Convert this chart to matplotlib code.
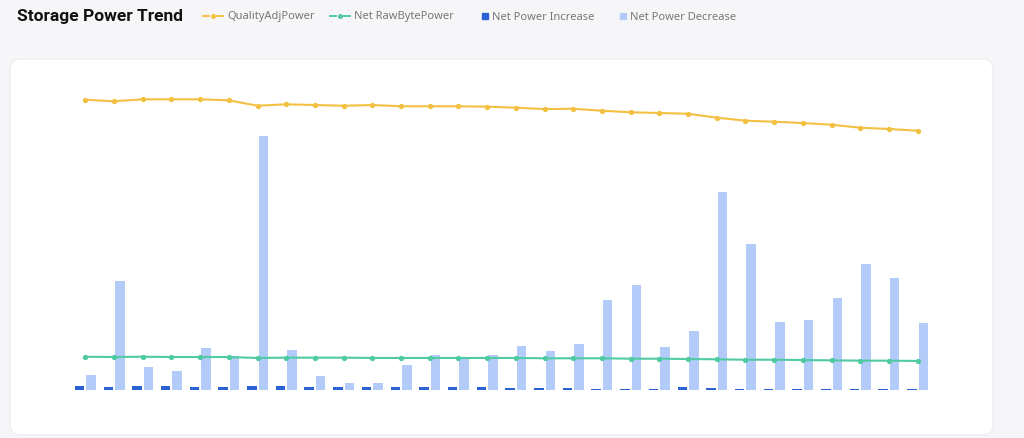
import numpy as np
import matplotlib
matplotlib.use("Agg")
import matplotlib.pyplot as plt
from matplotlib.patches import FancyBboxPatch

plt.rcParams['font.family'] = ['Noto Sans', 'DejaVu Sans']

# 30 daily points, bars in PiB, lines in EiB
days = list(range(1, 31))
power_increase = [0.36, 0.29, 0.34, 0.34, 0.32, 0.29, 0.34, 0.41, 0.32, 0.26,
                  0.26, 0.32, 0.29, 0.26, 0.26, 0.19, 0.19, 0.16, 0.13, 0.13,
                  0.13, 0.32, 0.22, 0.10, 0.13, 0.13, 0.13, 0.13, 0.10, 0.13]
power_decrease = [1.45, 10.51, 2.22, 1.87, 4.09, 3.28, 24.54, 3.86, 1.32, 0.71,
                  0.68, 2.41, 3.41, 3.09, 3.38, 4.22, 3.73, 4.44, 8.72, 10.17,
                  4.19, 5.66, 19.07, 14.05, 6.53, 6.72, 8.87, 12.13, 10.84, 6.43]
quality_adj = [28.00, 27.85, 28.04, 28.04, 28.04, 27.94, 27.42, 27.56, 27.49, 27.42,
               27.49, 27.37, 27.37, 27.37, 27.33, 27.23, 27.10, 27.13, 26.94, 26.79,
               26.72, 26.65, 26.27, 25.98, 25.88, 25.75, 25.59, 25.30, 25.18, 25.01]
raw_byte = [3.21, 3.18, 3.21, 3.18, 3.18, 3.18, 3.09, 3.12, 3.12, 3.12,
            3.09, 3.09, 3.09, 3.09, 3.09, 3.09, 3.06, 3.06, 3.06, 3.02,
            3.02, 2.99, 2.96, 2.92, 2.92, 2.89, 2.86, 2.83, 2.83, 2.80]

c_yellow = '#f3c142'
c_green = '#4fcaa3'
c_dark = '#2a62d3'
c_light = '#b2cbf8'

W, H = 1024, 439
fig = plt.figure(figsize=(W / 100, H / 100), dpi=100)
fig.patch.set_facecolor('#f6f6f8')

# background layer in pixel units: card + header
bg = fig.add_axes([0, 0, 1, 1], zorder=-5)
bg.axis('off')
bg.set_xlim(0, W)
bg.set_ylim(H, 0)
bg.add_patch(FancyBboxPatch((10, 60), 983, 376, boxstyle="round,pad=0,rounding_size=11",
                            facecolor='white', edgecolor='#ececef', linewidth=0.8))

ax = fig.add_axes([71 / W, (H - 391) / H, 861 / W, 311 / H])
ax.set_facecolor('none')
x = np.arange(len(days))
bw = 0.33
ax.bar(x - 0.2, power_increase, width=bw, color=c_dark, zorder=2)
ax.bar(x + 0.2, power_decrease, width=bw, color=c_light, zorder=2)
ax.set_ylim(0, 30)
ax.set_xlim(-0.5, len(days) - 0.5)
ax.axis('off')

ax2 = ax.twinx()
ax2.plot(x, quality_adj, color=c_yellow, lw=1.5, marker='o', ms=2.8, zorder=3)
ax2.plot(x, raw_byte, color=c_green, lw=1.5, marker='o', ms=2.8, zorder=3)
ax2.set_ylim(0, 30)
ax2.axis('off')

# header: title + legend
ty = 17
bg.text(17, ty, 'Storage Power Trend', fontsize=12.5, fontweight='bold',
        family=['Roboto', 'DejaVu Sans'], color='#111111', va='center', ha='left')

legend_items = [
    ('QualityAdjPower', c_yellow, 'line', 203, 227),
    ('Net RawBytePower', c_green, 'line', 330, 354),
    ('Net Power Increase', c_dark, 'box', 484.5, 492),
    ('Net Power Decrease', c_light, 'box', 622.5, 630),
]
for label, col, kind, ix, tx in legend_items:
    if kind == 'line':
        bg.plot([ix, ix + 6], [ty, ty], color=col, lw=1.4)
        bg.plot([ix + 14, ix + 20], [ty, ty], color=col, lw=1.4)
        bg.plot([ix + 10], [ty], 'o', color=col, ms=2.6)
    else:
        bg.plot([ix], [ty], 's', color=col, ms=4.3)
    bg.text(tx, ty, label, fontsize=8, color='#777777', va='center', ha='left')

fig.savefig('out.png', dpi=100, facecolor=fig.get_facecolor())
